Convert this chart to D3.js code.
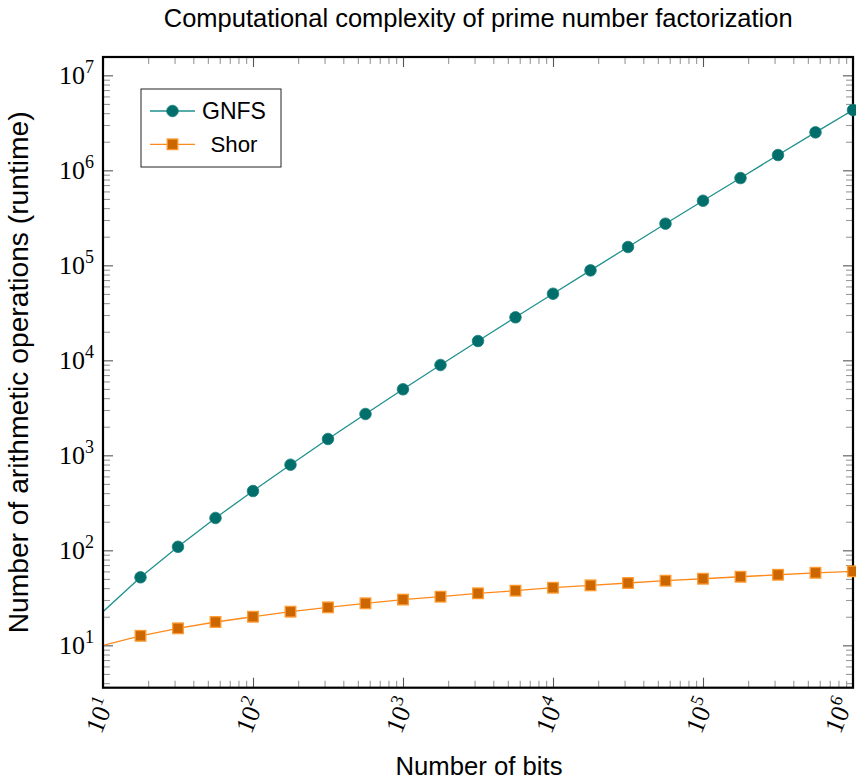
<!DOCTYPE html>
<html><head><meta charset="utf-8">
<script src="https://cdn.jsdelivr.net/npm/d3@7"></script>
<style>body{margin:0;background:#fff}svg{display:block}</style>
</head><body>
<svg id="c" width="856" height="780"></svg>
<script>
// ---- data ----
const bits = [10, 17.78, 31.62, 56.23, 100, 177.8, 316.2, 562.3, 1000, 1778, 3162, 5623, 10000, 17783, 31623, 56234, 100000, 177828, 316228, 562341, 1000000];
const gnfs = [22.6, 52, 109, 219, 421, 796, 1486, 2724, 4955, 8930, 15960, 28370, 50240, 88530, 156000, 274400, 478600, 829600, 1449000, 2512000, 4315000];
const shor = [10, 12.6, 15.1, 17.6, 20, 22.6, 25.1, 27.7, 30.3, 32.5, 35.3, 37.6, 40.4, 42.8, 45.3, 47.9, 50.2, 52.7, 55.3, 58, 60.1];
const seriesNames = ["GNFS", "Shor"];
const xTickExps = [1, 2, 3, 4, 5, 6];
const yTickExps = [1, 2, 3, 4, 5, 6, 7];
const titleText = "Computational complexity of prime number factorization";
const xLabelText = "Number of bits";
const yLabelText = "Number of arithmetic operations (runtime)";

// ---- layout ----
const svg = d3.select("#c");
const L = 103, R = 853, T = 57, B = 687.7;
const x = d3.scaleLog().domain([10, 1e6]).range([L, R]);
const y = d3.scaleLog().domain([Math.pow(10, 0.554), Math.pow(10, 7.193)]).range([B, T]);
const sans = "'Liberation Sans', Arial, sans-serif";
const serif = "'Liberation Serif', 'Times New Roman', serif";
const colG = {line: "#1f918d", fill: "#006f6b"};
const colS = {line: "#ff8a1c", fill: "#cc6600", stroke: "#ff9a30"};

function fitText(sel, target) {
  const n = sel.node();
  const w = n.getComputedTextLength();
  const fs = parseFloat(sel.attr("font-size"));
  sel.attr("font-size", (fs * target / w).toFixed(2));
}

// minor / major tick values
function minors(lo, hi) {
  const out = [];
  for (let e = -1; e <= 8; e++) for (let m = 2; m <= 9; m++) {
    const v = m * Math.pow(10, e);
    if (v > lo && v < hi) out.push(v);
  }
  return out;
}
const xMaj = xTickExps.map(e => Math.pow(10, e));
const yMaj = yTickExps.map(e => Math.pow(10, e));
const xMin = minors(x.domain()[0], x.domain()[1]);
const yMin = minors(y.domain()[0], y.domain()[1]);

function tickGroup(axisFn, scale, vals, size, color, tr) {
  const g = svg.append("g").attr("transform", tr)
    .call(axisFn(scale).tickValues(vals).tickSize(size).tickFormat(""));
  g.select(".domain").remove();
  g.selectAll(".tick line").attr("stroke", color).attr("stroke-width", 1.1);
  return g;
}
const majC = "#555", minC = "#999";
tickGroup(d3.axisBottom, x, xMin, -7, minC, `translate(0,${B})`);
tickGroup(d3.axisBottom, x, xMaj, -10, majC, `translate(0,${B})`);
tickGroup(d3.axisTop, x, xMin, -7, minC, `translate(0,${T})`);
tickGroup(d3.axisTop, x, xMaj, -10, majC, `translate(0,${T})`);
tickGroup(d3.axisLeft, y, yMin, -7, minC, `translate(${L},0)`);
tickGroup(d3.axisLeft, y, yMaj, -10, majC, `translate(${L},0)`);
tickGroup(d3.axisRight, y, yMin, -7, minC, `translate(${R},0)`);
tickGroup(d3.axisRight, y, yMaj, -10, majC, `translate(${R},0)`);

// ---- series ----
svg.append("clipPath").attr("id", "pc").append("rect")
  .attr("x", L).attr("y", T).attr("width", R - L).attr("height", B - T);
const line = d3.line().x(d => x(d[0])).y(d => y(d[1]));
const gData = bits.map((b, i) => [b, gnfs[i]]);
const sData = bits.map((b, i) => [b, shor[i]]);
svg.append("path").datum(gData).attr("d", line).attr("fill", "none")
  .attr("stroke", colG.line).attr("stroke-width", 1.3).attr("clip-path", "url(#pc)");
svg.append("path").datum(sData).attr("d", line).attr("fill", "none")
  .attr("stroke", colS.line).attr("stroke-width", 1.3).attr("clip-path", "url(#pc)");

// ---- frame ----
svg.append("rect").attr("x", L).attr("y", T).attr("width", R - L).attr("height", B - T)
  .attr("fill", "none").attr("stroke", "#000").attr("stroke-width", 2.2);

// markers (first point unmarked)
svg.append("g").selectAll("circle").data(gData.slice(1)).join("circle")
  .attr("cx", d => x(d[0])).attr("cy", d => y(d[1])).attr("r", 5.8)
  .attr("fill", colG.fill).attr("stroke", "#1a7f7b").attr("stroke-width", 0.8);
const sq = 10.6;
svg.append("g").selectAll("rect").data(sData.slice(1)).join("rect")
  .attr("x", d => x(d[0]) - sq / 2).attr("y", d => y(d[1]) - sq / 2)
  .attr("width", sq).attr("height", sq)
  .attr("fill", colS.fill).attr("stroke", colS.stroke).attr("stroke-width", 1.3);

// ---- tick labels ----
yTickExps.forEach(e => {
  const t = svg.append("text").attr("x", 94).attr("y", y(Math.pow(10, e)) + 8.5)
    .attr("text-anchor", "end").attr("font-family", serif).attr("font-size", 26).attr("fill", "#000");
  t.append("tspan").text("10");
  t.append("tspan").attr("dy", -11).attr("font-size", 18).text(String(e));
});
xTickExps.forEach(e => {
  const g = svg.append("g").attr("transform", `translate(${x(Math.pow(10, e)) + (e === 6 ? -8 : 3)},${699}) rotate(-68)`);
  const t = g.append("text").attr("text-anchor", "end").attr("dy", "0.35em")
    .attr("font-family", serif).attr("font-size", 26).attr("fill", "#000");
  t.append("tspan").text("10");
  t.append("tspan").attr("dy", -11).attr("font-size", 18).text(String(e));
});

// ---- titles ----
const title = svg.append("text").attr("x", 478.2).attr("y", 27).attr("text-anchor", "middle")
  .attr("font-family", sans).attr("font-size", 22).attr("fill", "#000").text(titleText);
fitText(title, 629);
const xl = svg.append("text").attr("x", 479).attr("y", 775).attr("text-anchor", "middle")
  .attr("font-family", sans).attr("font-size", 22).attr("fill", "#000").text(xLabelText);
fitText(xl, 167);
const yl = svg.append("text").attr("transform", `translate(28,${(T + B) / 2}) rotate(-90)`)
  .attr("text-anchor", "middle").attr("font-family", sans).attr("font-size", 22)
  .attr("fill", "#000").text(yLabelText);
fitText(yl, 522);

// ---- legend ----
const lg = svg.append("g");
lg.append("rect").attr("x", 141).attr("y", 89).attr("width", 140).attr("height", 78)
  .attr("fill", "#fff").attr("stroke", "#222").attr("stroke-width", 1);
const rows = [111, 144.3];
seriesNames.forEach((name, i) => {
  const cy = rows[i];
  const c = i === 0 ? colG : colS;
  lg.append("line").attr("x1", 150).attr("x2", 195).attr("y1", cy).attr("y2", cy)
    .attr("stroke", c.line).attr("stroke-width", 1.3);
  if (i === 0) {
    lg.append("circle").attr("cx", 172.5).attr("cy", cy).attr("r", 5.8)
      .attr("fill", colG.fill).attr("stroke", "#1a7f7b").attr("stroke-width", 0.8);
  } else {
    lg.append("rect").attr("x", 172.5 - sq / 2).attr("y", cy - sq / 2).attr("width", sq).attr("height", sq)
      .attr("fill", colS.fill).attr("stroke", colS.stroke).attr("stroke-width", 1.3);
  }
  const t = lg.append("text").attr("x", 234).attr("y", cy + 8).attr("text-anchor", "middle")
    .attr("font-family", sans).attr("font-size", 22).attr("fill", "#000").text(name);
  fitText(t, i === 0 ? 64 : 47);
});
</script>
</body></html>
